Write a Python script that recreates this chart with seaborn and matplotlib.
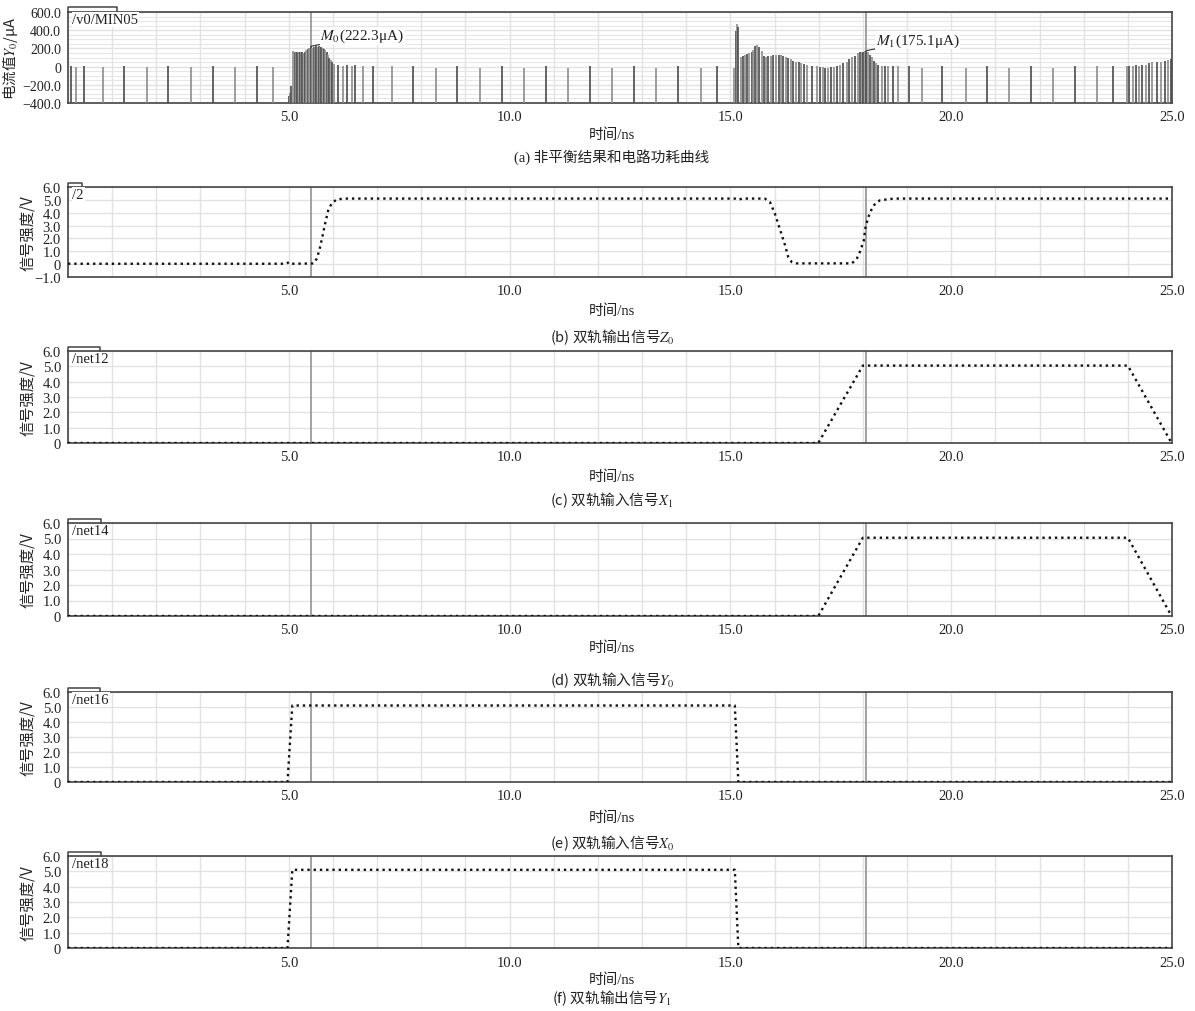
import numpy as np
import pandas as pd
import matplotlib
matplotlib.use('Agg')
import matplotlib.pyplot as plt
import seaborn as sns
from matplotlib.lines import Line2D

# ---------------- data ----------------
# panel (a): supply current spikes, time in ns, peak in uA (each spike drawn from the axis floor)
idle1_t = [0.06, 0.18, 0.37, 0.79, 1.27, 1.78, 2.27, 2.78, 3.28, 3.78, 4.27, 4.64]
idle1_i = [8, -8, 8, -8, 8, -8, 8, -8, 8, -8, 8, -8]

burst1_t = [5.00, 5.03, 5.06, 5.10, 5.13, 5.16, 5.19, 5.22, 5.25, 5.28, 5.31, 5.34,
            5.37, 5.40, 5.43, 5.46, 5.50, 5.53, 5.56, 5.59, 5.62, 5.65, 5.68, 5.71,
            5.74, 5.77, 5.80, 5.83, 5.86, 5.89, 5.92, 5.95, 5.98, 6.02]
burst1_i = [-320, -290, -210, 175, 160, 158, 162, 158, 160, 156, 160, 150,
            165, 185, 198, 205, 222.3, 208, 212, 220, 222, 218, 222, 220,
            214, 208, 198, 182, 160, 128, 98, 70, 48, 28]

idle2_t = [6.12, 6.23, 6.31, 6.42, 6.51, 6.69, 6.91, 7.33,
           7.82, 8.33, 8.82, 9.33, 9.82, 10.33, 10.82, 11.33, 11.82, 12.33,
           12.82, 13.32, 13.82, 14.33, 14.70]
idle2_i = [15, 10, 15, 10, 15, 10, 12, 8,
           10, -10, 10, -10, 10, -10, 10, -10, 10, -10,
           10, -10, 10, -10, 10]

burst2_t = [15.08, 15.12, 15.14, 15.18, 15.23, 15.28, 15.33, 15.38, 15.43, 15.48,
            15.52, 15.56, 15.61, 15.65, 15.71, 15.75, 15.80, 15.86, 15.91, 15.97,
            16.03, 16.09, 16.14, 16.20, 16.26, 16.31, 16.37, 16.42, 16.49, 16.55,
            16.61, 16.67, 16.74, 16.84, 16.95, 17.03, 17.09, 17.15, 17.22, 17.28,
            17.35, 17.41, 17.48, 17.56, 17.63, 17.69, 17.75, 17.82, 17.90, 17.93,
            17.97, 18.01, 18.05, 18.08, 18.12, 18.16, 18.20, 18.25, 18.30, 18.35,
            18.43, 18.50, 18.58, 18.69, 18.80]
burst2_i = [-18, 395, 468, 432, 109, 120, 128, 135, 146, 164,
            183, 227, 237, 220, 175, 120, 109, 113, 120, 124,
            128, 128, 128, 120, 109, 95, 84, 66, 55, 47,
            36, 29, 18, 11, 3, -8, -8, -11, -11, -8,
            -2, 10, 20, 36, 55, 84, 102, 120, 150, 157,
            160, 164, 170, 175.1, 157, 128, 102, 66, 36, 18,
            11, 8, 10, 8, 10]

idle3_t = [19.05, 19.33, 19.80, 20.33, 20.82, 21.32, 21.81, 22.31, 22.80, 23.31, 23.66]
idle3_i = [10, -10, 10, -10, 10, -10, 10, -10, 10, 3, 3]

burst3_t = [23.97, 24.03, 24.11, 24.18, 24.26, 24.33, 24.40, 24.49, 24.55, 24.67,
            24.74, 24.85, 24.92, 24.98]
burst3_i = [3, 10, 10, 17, 10, 17, 17, 40, 47, 55, 55, 66, 73, 84]

markers_t = [5.50, 18.08]
marker_names = [r'$M_0$(222.3μA)', r'$M_1$(175.1μA)']
marker_vals = [222.3, 175.1]

# panel (b): dual-rail output Z0
z0_t = [0.0, 4.95, 5.00, 5.05, 5.56, 5.63, 5.69, 5.75, 5.82, 5.89, 5.97, 6.09, 6.32,
        15.10, 15.18, 15.26, 15.78, 15.90, 16.01, 16.12, 16.24, 16.31, 16.39, 16.50,
        17.75, 17.86, 17.93, 18.02, 18.06, 18.12, 18.20, 18.28, 18.39, 18.70, 25.0]
z0_v = [0.03, 0.03, 0.16, 0.03, 0.05, 0.41, 1.06, 1.96, 3.12, 4.15, 4.72, 5.05, 5.10,
        5.10, 5.00, 5.10, 5.10, 4.80, 3.90, 2.73, 1.44, 0.55, 0.16, 0.06,
        0.06, 0.40, 0.93, 1.83, 2.86, 3.63, 4.28, 4.72, 4.97, 5.10, 5.10]

# panels (c), (d): dual-rail inputs X1 and Y0
x1_t = [0.0, 16.99, 18.0, 24.0, 24.99]
x1_v = [0.0, 0.0, 5.05, 5.05, 0.0]
y0_t = [0.0, 16.99, 18.0, 24.0, 24.99]
y0_v = [0.0, 0.0, 5.05, 5.05, 0.0]

# panels (e), (f): dual-rail input X0 and output Y1
x0_t = [0.0, 4.97, 5.08, 15.10, 15.18, 25.0]
x0_v = [0.0, 0.0, 5.10, 5.10, 0.0, 0.0]
y1_t = [0.0, 4.97, 5.08, 15.10, 15.18, 25.0]
y1_v = [0.0, 0.0, 5.10, 5.10, 0.0, 0.0]

x_ticks = [5, 10, 15, 20, 25]
x_labels = ['5.0', '10.0', '15.0', '20.0', '25.0']
a_yticks = [-400, -200, 0, 200, 400, 600]
a_ylabels = ['−400.0', '−200.0', '0', '200.0', '400.0', '600.0']
b_yticks = [-1, 0, 1, 2, 3, 4, 5, 6]
b_ylabels = ['−1.0', '0', '1.0', '2.0', '3.0', '4.0', '5.0', '6.0']
v_yticks = [0, 1, 2, 3, 4, 5, 6]
v_ylabels = ['0', '1.0', '2.0', '3.0', '4.0', '5.0', '6.0']

panel_tags = ['/v0/MIN05', '/2', '/net12', '/net14', '/net16', '/net18']
captions = ['(a) 非平衡结果和电路功耗曲线',
            '(b) 双轨输出信号$Z_0$',
            '(c) 双轨输入信号$X_1$',
            '(d) 双轨输入信号$Y_0$',
            '(e) 双轨输入信号$X_0$',
            '(f) 双轨输出信号$Y_1$']

# ---------------- style ----------------
sns.set_theme(style='white')
SERIF = ['Liberation Serif', 'Noto Sans CJK SC']
plt.rcParams['font.family'] = SERIF
plt.rcParams['mathtext.fontset'] = 'stix'
plt.rcParams['axes.unicode_minus'] = True

W, H = 1195, 1012
fig = plt.figure(figsize=(W / 100, H / 100), dpi=100)
fig.patch.set_facecolor('white')

# (top, bottom) in pixels for every panel, plus caption rows
rows = [(13, 104), (188, 278), (352, 444), (524, 617), (693, 783), (857, 949)]
xlab_y = [135, 311, 477, 648, 818, 980]
cap_y = [157, 337, 500, 680, 843, 998]
tab_w = [49, 14, 32, 33, 32, 33]

GRID = '#e2e2e2'
SPINE = '#444444'


def make_axes(top, bottom):
    return fig.add_axes([68 / W, 1 - bottom / H, 1104 / W, (bottom - top) / H])


def style_axes(ax, i, yticks, ylabels, ylim):
    ax.set_xlim(0, 25)
    ax.set_ylim(*ylim)
    ax.set_xticks(x_ticks)
    ax.set_xticklabels(x_labels)
    ax.set_xticks(np.arange(0, 26, 1), minor=True)
    ax.set_yticks(yticks)
    ax.set_yticklabels(ylabels)
    ax.grid(which='minor', axis='x', color=GRID, lw=1.0)
    ax.grid(which='major', axis='x', color=GRID, lw=1.0)
    ax.grid(which='major', axis='y', color=GRID, lw=1.0)
    ax.set_axisbelow(True)
    for s in ax.spines.values():
        s.set_color(SPINE)
        s.set_linewidth(1.2)
        s.set_visible(True)
    ax.tick_params(axis='y', which='major', length=4, width=0.9, color=SPINE,
                   direction='out', pad=1, labelsize=10.5, labelcolor='#222222')
    ax.tick_params(axis='y', which='minor', length=0)
    if i == 5:
        ax.tick_params(axis='x', which='both', length=3, width=0.9, color=SPINE,
                       direction='out', pad=3, labelsize=10.5, labelcolor='#222222')
    else:
        ax.tick_params(axis='x', which='both', length=0, pad=5,
                       labelsize=10.5, labelcolor='#222222')
    # marker cursors
    for m in markers_t:
        ax.axvline(m, color='#9a9a9a', lw=1.3, zorder=1.5)
    # tab label in the top-left corner
    w = tab_w[i] / 1104
    h = 4.5 / (rows[i][1] - rows[i][0])
    ax.add_line(Line2D([0, 0, w, w], [1, 1 + h, 1 + h, 1], transform=ax.transAxes,
                       color=SPINE, lw=1.1, clip_on=False))
    ax.text(0.004, 0.985, panel_tags[i], transform=ax.transAxes, ha='left', va='top',
            fontsize=10.5, color='#222222', zorder=6,
            bbox=dict(facecolor='white', edgecolor='none', pad=0.6))


axes = [make_axes(t, b) for t, b in rows]

# ---- (a) current spikes ----
ax = axes[0]
spk = pd.DataFrame({
    't': idle1_t + burst1_t + idle2_t + burst2_t + idle3_t + burst3_t,
    'i': idle1_i + burst1_i + idle2_i + burst2_i + idle3_i + burst3_i,
})
style_axes(ax, 0, a_yticks, a_ylabels, (-400, 600))
ax.tick_params(axis='y', which='major', labelsize=10)
ax.set_yticks(np.arange(-400, 601, 50), minor=True)
ax.grid(which='minor', axis='y', color='#e6e6e6', lw=0.8)
cols = ['#4a4a4a' if k % 2 == 0 else '#8c8c8c' for k in range(len(spk))]
ax.vlines(spk['t'], -400, spk['i'], colors=cols, lw=1.2, zorder=3)
for mt, mv, name in zip(markers_t, marker_vals, marker_names):
    ax.annotate(name, xy=(mt, mv), xytext=(mt + 0.21, mv + 118),
                fontsize=11, color='#222222', va='center', ha='left',
                family='Liberation Serif', zorder=7,
                bbox=dict(facecolor='white', edgecolor='none', pad=0.3),
                arrowprops=dict(arrowstyle='-', color='#333333', lw=0.8,
                                shrinkA=0, shrinkB=0))
ax.set_xlabel('')
ax.set_ylabel('电流值$Y_0$/μA', family='Noto Sans CJK SC', fontsize=10.5)
ax.yaxis.set_label_coords(-0.0435, 0.5)

# ---- (b)-(f) voltage waveforms ----
waves = [(z0_t, z0_v), (x1_t, x1_v), (y0_t, y0_v), (x0_t, x0_v), (y1_t, y1_v)]
for k, (tt, vv) in enumerate(waves, start=1):
    ax = axes[k]
    if k == 1:
        style_axes(ax, k, b_yticks, b_ylabels, (-1, 6))
    else:
        style_axes(ax, k, v_yticks, v_ylabels, (0, 6))
    sns.lineplot(x=tt, y=vv, ax=ax, color='#111111', lw=1.7, linestyle=':',
                 sort=False, estimator=None, zorder=4)
    ax.set_xlabel('')
    ax.set_ylabel('信号强度/V', family='Noto Sans CJK SC', fontsize=11)
    ax.yaxis.set_label_coords(-0.029, 0.5)

# ---- captions ----
for k in range(6):
    fig.text(612 / W, 1 - xlab_y[k] / H, '时间/ns', ha='center', va='center',
             fontsize=10.5, family=SERIF, color='#222222')
    fam = SERIF if k == 0 else 'Noto Sans CJK SC'
    fig.text(612 / W, 1 - cap_y[k] / H, captions[k], ha='center', va='center',
             fontsize=10.5, family=fam, color='#222222')

fig.savefig('out.png', dpi=100, facecolor='white')
